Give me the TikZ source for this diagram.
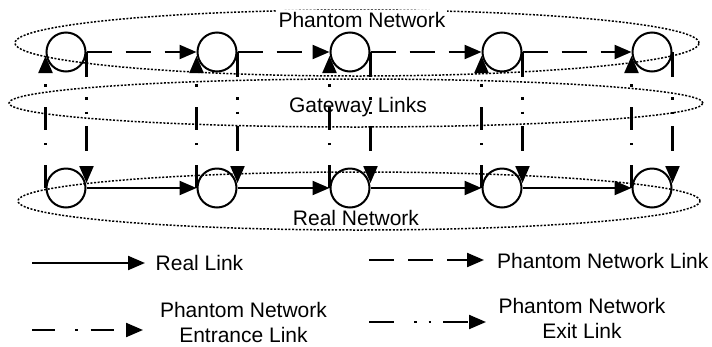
\documentclass[tikz,border=0pt]{standalone}
\usepackage{fontspec}
\setmainfont{Liberation Sans}
\usetikzlibrary{arrows.meta,shapes.geometric}

\begin{document}
\begin{tikzpicture}[
  x=1pt,y=-1pt,
  font=\fontsize{21}{25}\selectfont,
  nd/.style  ={draw,circle,line width=2pt,minimum size=39pt,inner sep=0pt},
  zone/.style={draw,ellipse,line width=1.5pt,dash pattern=on 2pt off 1.6pt,inner sep=0pt},
  arr/.style ={-{Triangle[length=17pt,width=14pt]},line width=2.2pt},
  real/.style={arr},
  phl/.style ={arr,dash pattern=on 25pt off 14pt},
  ent/.style ={arr,dash pattern=on 23pt off 20pt on 2.5pt off 13pt},
  ext/.style ={arr,dash pattern=on 25pt off 20pt on 2.5pt off 12pt on 2.5pt off 12pt},
  lb/.style  ={inner sep=0pt}
]
\useasboundingbox (0,0) rectangle (712,346);

% ======== network zones (dotted)
\node[zone,minimum width=684pt,minimum height=66pt] (zph) at (357,43)  {};
\node[zone,minimum width=694pt,minimum height=48pt] (zgw) at (356,103) {};
\node[zone,minimum width=682pt,minimum height=58pt] (zre) at (359,201) {};

\node[lb,anchor=base,fill=white,inner sep=2pt] (lph) at (362,27) {Phantom Network};
\node[lb,anchor=base] (lgw) at (358,112) {Gateway Links};
\node[lb,anchor=base] (lre) at (356,225) {Real Network};

% ======== phantom nodes
\node[nd] (t1) at (66,52)  {};
\node[nd] (t2) at (217,52) {};
\node[nd] (t3) at (350,52) {};
\node[nd] (t4) at (502,52) {};
\node[nd] (t5) at (652,52) {};

% ======== real nodes
\node[nd] (b1) at (66,188)  {};
\node[nd] (b2) at (217,188) {};
\node[nd] (b3) at (350,188) {};
\node[nd] (b4) at (502,188) {};
\node[nd] (b5) at (652,188) {};

% ======== phantom network links
\draw[phl] (t1) -- (t2);
\draw[phl] (t2) -- (t3);
\draw[phl] (t3) -- (t4);
\draw[phl] (t4) -- (t5);

% ======== real links
\draw[real] (b1) -- (b2);
\draw[real] (b2) -- (b3);
\draw[real] (b3) -- (b4);
\draw[real] (b4) -- (b5);

% ======== gateway links: entrance (up, left) and exit (down, right)
\draw[ent,shorten >=4pt] (b1.west) -- (t1.west);
\draw[ent,shorten >=4pt] (b2.west) -- (t2.west);
\draw[ent,shorten >=4pt] (b3.west) -- (t3.west);
\draw[ent,shorten >=4pt] (b4.west) -- (t4.west);
\draw[ent,shorten >=4pt] (b5.west) -- (t5.west);
\draw[ext,shorten >=5pt] (t1.east) -- (b1.east);
\draw[ext,shorten >=5pt] (t2.east) -- (b2.east);
\draw[ext,shorten >=5pt] (t3.east) -- (b3.east);
\draw[ext,shorten >=5pt] (t4.east) -- (b4.east);
\draw[ext,shorten >=5pt] (t5.east) -- (b5.east);

% ======== legend
\coordinate (kr0) at (32,263);  \coordinate (kr1) at (145,263);
\coordinate (kp0) at (369,260); \coordinate (kp1) at (484,260);
\coordinate (ke0) at (32,330);  \coordinate (ke1) at (143,330);
\coordinate (kx0) at (369,322); \coordinate (kx1) at (486,322);
\draw[real] (kr0) -- (kr1);
\draw[phl]  (kp0) -- (kp1);
\draw[ent]  (ke0) -- (ke1);
\draw[ext]  (kx0) -- (kx1);
\node[lb,anchor=base west] (kr) at (155.5,270) {Real Link};
\node[lb,anchor=base west] (kp) at (497,268)   {Phantom Network Link};
\node[lb,align=center] (ke) at (243.5,322) {Phantom Network\\Entrance Link};
\node[lb,align=center] (kx) at (582,318)   {Phantom Network\\Exit Link};
\end{tikzpicture}
\end{document}
